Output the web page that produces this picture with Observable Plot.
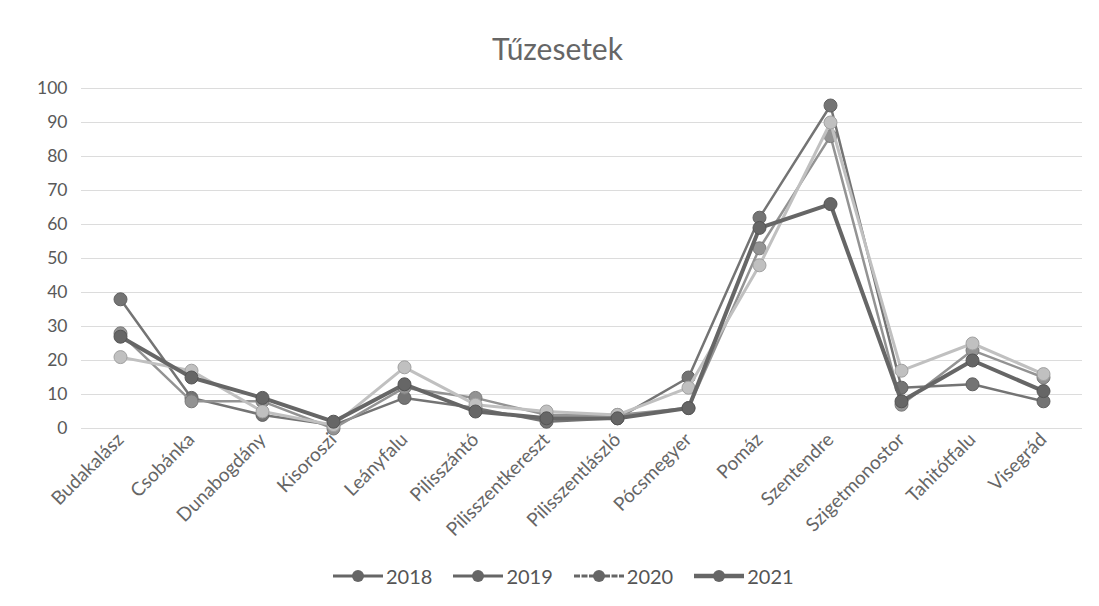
<!DOCTYPE html>
<html>
<head>
<meta charset="utf-8">
<script src="https://cdn.jsdelivr.net/npm/d3@7"></script>
<script src="https://cdn.jsdelivr.net/npm/@observablehq/plot@0.6"></script>
<style>
  body { margin: 0; background: #fff; font-family: Lato, "Open Sans", sans-serif; }
  #wrap { width: 1099px; height: 606px; position: relative; overflow: hidden; }
  #title { height: 78px; box-sizing: border-box; padding-top: 32px; text-align: center; font-size: 30px; color: #666; line-height: 32px; margin-left: 16px; }
  #legend { display: flex; justify-content: flex-start; gap: 21px; height: 26px; align-items: center; font-size: 20px; color: #555; padding-left: 333px; }
  .item { display: flex; align-items: center; gap: 3px; }
  g[aria-label="x-axis tick label"] text { font-size: 19px; }
  g[aria-label="y-axis tick label"] text { font-size: 17.5px; }
</style>
</head>
<body>
<div id="wrap">
  <div id="title">Tűzesetek</div>
  <div id="chart"></div>
  <div id="legend"></div>
</div>
<script>
const categories = ["Budakalász","Csobánka","Dunabogdány","Kisoroszi","Leányfalu","Pilisszántó","Pilisszentkereszt","Pilisszentlászló","Pócsmegyer","Pomáz","Szentendre","Szigetmonostor","Tahitótfalu","Visegrád"];
const years = ["2018","2019","2020","2021"];
const v2018 = [38, 9, 4, 1, 9, 6, 2, 3, 15, 62, 95, 12, 13, 8];
const v2019 = [28, 8, 8, 0, 12, 9, 4, 4, 6, 53, 86, 7, 23, 15];
const v2020 = [21, 17, 5, 1, 18, 7, 5, 4, 12, 48, 90, 17, 25, 16];
const v2021 = [27, 15, 9, 2, 13, 5, 3, 3, 6, 59, 66, 8, 20, 11];
const yTicks = [0,10,20,30,40,50,60,70,80,90,100];

const seriesValues = [v2018, v2019, v2020, v2021];
const colors = {"2018": "#747474", "2019": "#939393", "2020": "#c0c0c0", "2021": "#666666"};
const widths = {"2018": 2.5, "2019": 2.5, "2020": 3, "2021": 4};

const data = [];
years.forEach((yr, i) => categories.forEach((c, j) => data.push({year: yr, cat: c, value: seriesValues[i][j]})));

const marks = [
  Plot.gridY(yTicks, {stroke: "#dcdcdc", strokeOpacity: 1, strokeWidth: 1}),
  Plot.axisY(yTicks, {tickSize: 0, tickPadding: 14, fontSize: 17.5, fill: "#595959", label: null, tickFormat: d => d}),
  Plot.axisX({tickSize: 0, tickRotate: -45, tickPadding: 8, fontSize: 19, fill: "#666", label: null})
];
years.forEach(yr => {
  const d = data.filter(r => r.year === yr);
  marks.push(Plot.line(d, {x: "cat", y: "value", stroke: colors[yr], strokeWidth: widths[yr]}));
  marks.push(Plot.dot(d, {x: "cat", y: "value", r: 6.5, fill: colors[yr], stroke: d3.color(colors[yr]).darker(0.5).formatHex(), strokeWidth: 1}));
});

const chart = Plot.plot({
  width: 1099,
  height: 485,
  marginTop: 10,
  marginBottom: 135,
  marginLeft: 81,
  marginRight: 17,
  style: {fontFamily: "Lato, 'Open Sans', sans-serif", background: "#fff", overflow: "visible"},
  x: {type: "point", domain: categories, padding: 0.5},
  y: {domain: [0, 100]},
  marks
});
document.getElementById("chart").appendChild(chart);

const legend = document.getElementById("legend");
years.forEach(yr => {
  const item = document.createElement("div");
  item.className = "item";
  const sw = d3.create("svg").attr("width", 50).attr("height", 14);
  sw.append("line").attr("x1", 0).attr("x2", 50).attr("y1", 7).attr("y2", 7)
    .attr("stroke", "#666").attr("stroke-width", yr === "2021" ? 4.5 : 3)
    .attr("stroke-dasharray", yr === "2020" ? "6 1.5" : null);
  sw.append("circle").attr("cx", 25).attr("cy", 7).attr("r", 6).attr("fill", "#666");
  item.appendChild(sw.node());
  const t = document.createElement("span");
  t.textContent = yr;
  item.appendChild(t);
  legend.appendChild(item);
});
</script>
</body>
</html>
